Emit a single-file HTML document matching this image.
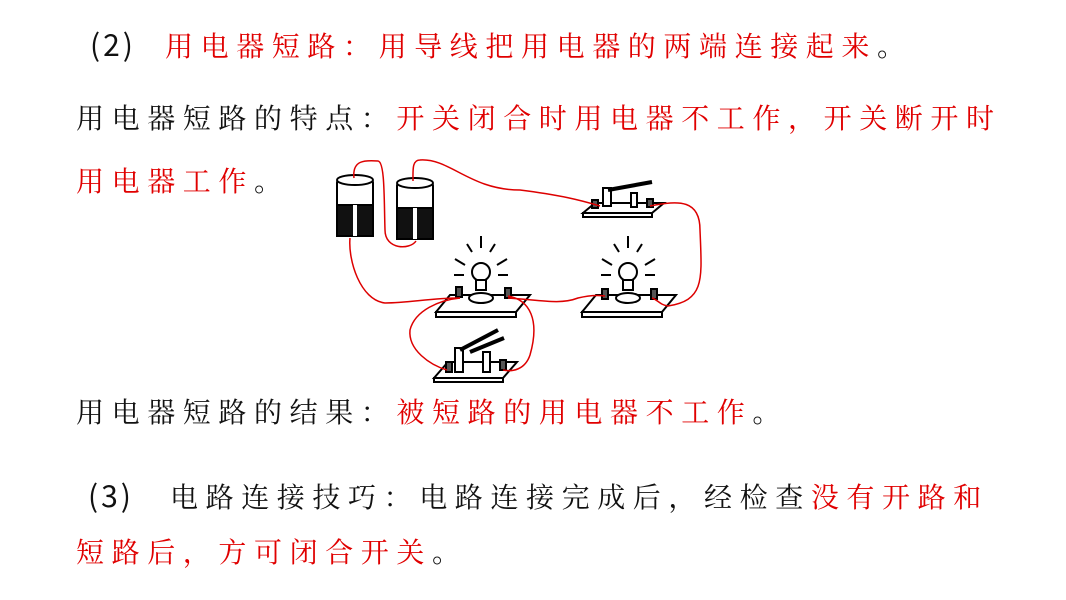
<!DOCTYPE html>
<html><head><meta charset="utf-8"><style>
body{margin:0;width:1066px;height:600px;background:#fff;overflow:hidden;position:relative;font-family:"Liberation Serif","Noto Serif CJK SC",serif;}
.t{position:absolute;font-size:28px;letter-spacing:7.6px;white-space:nowrap;color:#111;line-height:36px;}
.r{color:#e00000;}
.p{font-family:"Noto Sans CJK SC",sans-serif;font-size:30px;letter-spacing:3px;display:inline-block;}
</style></head><body>
<div class="t" style="left:90px;top:25px;"><span class="p" style="width:75px">(2)</span><span class="r">用电器短路：用导线把用电器的两端连接起来</span>。</div>
<div class="t" style="left:76px;top:102px;">用电器短路的特点：<span class="r">开关闭合时用电器不工作，开关断开时</span></div>
<div class="t" style="left:76px;top:165px;"><span class="r">用电器工作</span>。</div>
<div class="t" style="left:76px;top:396px;">用电器短路的结果：<span class="r">被短路的用电器不工作</span>。</div>
<div class="t" style="left:88px;top:476px;"><span class="p" style="width:82px">(3)</span>电路连接技巧：电路连接完成后，经检查<span class="r">没有开路和</span></div>
<div class="t" style="left:76px;top:536px;"><span class="r">短路后，方可闭合开关</span>。</div>
<svg width="1066" height="600" style="position:absolute;left:0;top:0" fill="none">
<g stroke="#000" stroke-width="2">
<rect x="337" y="178" width="36" height="58" rx="5" fill="#fff"/>
<rect x="337" y="205" width="36" height="31" fill="#111"/>
<line x1="355" y1="205" x2="355" y2="236" stroke="#fff" stroke-width="4"/>
<ellipse cx="355" cy="180" rx="18" ry="5" fill="#fff"/>
<rect x="397" y="181" width="36" height="58" rx="5" fill="#fff"/>
<rect x="397" y="208" width="36" height="31" fill="#111"/>
<line x1="415" y1="208" x2="415" y2="239" stroke="#fff" stroke-width="4"/>
<ellipse cx="415" cy="183" rx="18" ry="5" fill="#fff"/>
<polygon points="436,312 450,295 530,295 516,312" fill="#fff"/>
<rect x="436" y="312" width="80" height="5" fill="#fff"/>
<ellipse cx="481" cy="298" rx="12" ry="5" fill="#fff"/>
<circle cx="481" cy="272" r="9" fill="#fff"/>
<rect x="476" y="280" width="10" height="10" fill="#fff"/>
<rect x="456" y="287" width="6" height="10" fill="#555"/>
<rect x="505" y="288" width="6" height="10" fill="#555"/>
<path d="M481 236v12M467 244l5 8M495 244l-5 8M455 259l10 6M507 259l-10 6M454 275h10M498 275h10"/>
<polygon points="582,312 596,295 676,295 662,312" fill="#fff"/>
<rect x="582" y="312" width="80" height="5" fill="#fff"/>
<ellipse cx="628" cy="298" rx="12" ry="5" fill="#fff"/>
<circle cx="628" cy="272" r="9" fill="#fff"/>
<rect x="623" y="280" width="10" height="10" fill="#fff"/>
<rect x="602" y="289" width="6" height="10" fill="#555"/>
<rect x="651" y="289" width="6" height="10" fill="#555"/>
<path d="M628 236v12M614 244l5 8M642 244l-5 8M602 259l10 6M655 259l-10 6M601 275h10M645 275h10"/>
<polygon points="583,213 595,203 664,203 652,213" fill="#fff"/>
<rect x="583" y="213" width="69" height="4" fill="#fff"/>
<rect x="603" y="188" width="8" height="18" fill="#fff"/>
<path d="M608 190l44-8" stroke-width="4"/>
<rect x="631" y="193" width="6" height="14" fill="#fff"/>
<rect x="592" y="200" width="6" height="8" fill="#555"/>
<rect x="647" y="199" width="6" height="8" fill="#555"/>
<polygon points="434,378 448,362 517,362 503,378" fill="#fff"/>
<rect x="434" y="378" width="69" height="4" fill="#fff"/>
<rect x="455" y="348" width="8" height="24" fill="#fff"/>
<path d="M460 350l38-20M470 352l34-14" stroke-width="4"/>
<rect x="483" y="352" width="7" height="20" fill="#fff"/>
<rect x="446" y="362" width="6" height="10" fill="#555"/>
<rect x="500" y="360" width="6" height="10" fill="#555"/>
</g>
<g stroke="#d00" stroke-width="1.5">
<path d="M354 178C352 160 365 160 378 161C385 162 384 200 385 230C385 250 410 250 416 241"/>
<path d="M413 181C413 170 412 160 420 160C450 158 470 190 520 190C560 195 580 200 600 206"/>
<path d="M650 206C680 200 700 200 700 230C702 280 705 300 668 306C660 305 658 300 652 298"/>
<path d="M350 238C348 260 360 300 385 303C410 303 430 298 460 298"/>
<path d="M460 298C440 300 415 310 410 330C408 350 430 365 447 370"/>
<path d="M508 296C530 300 540 320 530 355C525 370 512 372 503 370"/>
<path d="M508 298C540 300 560 305 578 298C590 295 598 295 605 296"/>
</g>
</svg>
</body></html>
